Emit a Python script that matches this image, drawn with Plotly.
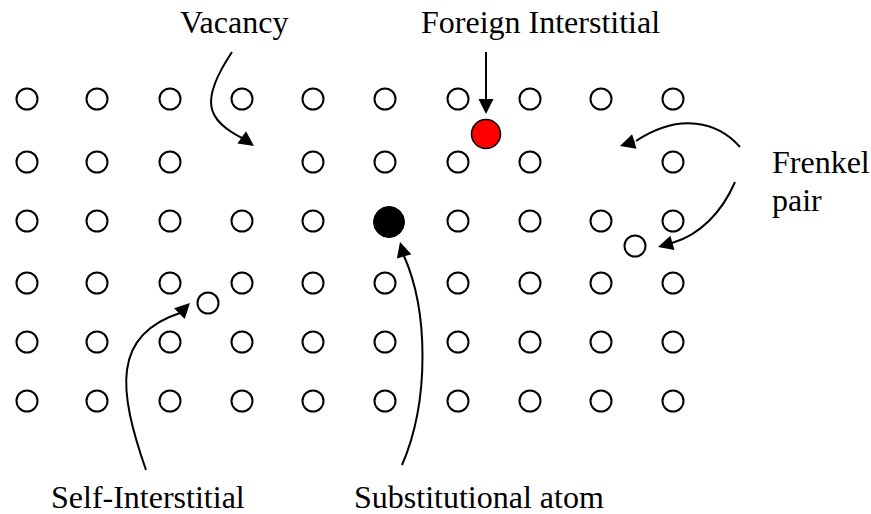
import plotly.graph_objects as go

# lattice columns / rows (pixel-like coordinates, y grows downward)
col_x = [27, 97, 170, 242, 313, 385, 458, 530, 601, 673]
row_y = [99, 162, 221, 283, 342, 401]

# (row, col) lattice sites that are empty or replaced
vacant_sites = [(1, 3), (1, 8)]
substituted_sites = [(2, 5)]

# defect atoms
self_interstitials = [(208, 303), (635, 246)]   # self-interstitial + Frenkel interstitial
foreign_interstitial = [(486, 134)]
substitutional_atom = [(389, 222)]

# label texts
label_text = ["Vacancy", "Foreign Interstitial", "Frenkel", "pair",
              "Self-Interstitial", "Substitutional atom"]

# arrow paths: start, control 1, control 2, curve end, arrow tip
arrow_paths = [
    [(232, 52), (200, 100), (205, 120), (244, 139), (254, 146)],   # Vacancy
    [(486, 52), (486, 70), (486, 85), (486, 100), (486, 114)],     # Foreign Interstitial
    [(740, 147), (718, 122), (680, 112), (636, 141), (620, 146)],  # Frenkel -> vacancy
    [(735, 182), (722, 212), (700, 235), (672, 243), (658, 247)],  # Frenkel -> interstitial
    [(146, 470), (118, 390), (112, 335), (180, 313), (190, 303)],  # Self-Interstitial
    [(402, 465), (430, 400), (428, 310), (404, 256), (400, 242)],  # Substitutional
]

W, H = 871, 514

lat_x, lat_y = [], []
for r, y in enumerate(row_y):
    for c, x in enumerate(col_x):
        if (r, c) in vacant_sites or (r, c) in substituted_sites:
            continue
        lat_x.append(x)
        lat_y.append(y)

fig = go.Figure()

open_marker = dict(symbol="circle", size=21, color="white",
                   line=dict(color="black", width=2))

fig.add_trace(go.Scatter(x=lat_x, y=lat_y, mode="markers", marker=open_marker))
fig.add_trace(go.Scatter(x=[p[0] for p in self_interstitials],
                         y=[p[1] for p in self_interstitials],
                         mode="markers", marker=open_marker))
fig.add_trace(go.Scatter(x=[p[0] for p in foreign_interstitial],
                         y=[p[1] for p in foreign_interstitial],
                         mode="markers",
                         marker=dict(size=29, color="#ff0000",
                                     line=dict(color="black", width=1.5))))
fig.add_trace(go.Scatter(x=[p[0] for p in substitutional_atom],
                         y=[p[1] for p in substitutional_atom],
                         mode="markers",
                         marker=dict(size=31, color="black",
                                     line=dict(color="black", width=1))))

# curved arrow bodies + arrowheads
for p0, c1, c2, p3, tip in arrow_paths:
    path = f"M{p0[0]},{p0[1]} C{c1[0]},{c1[1]} {c2[0]},{c2[1]} {p3[0]},{p3[1]}"
    fig.add_shape(type="path", path=path, xref="x", yref="y",
                  line=dict(color="black", width=2))
    fig.add_annotation(x=tip[0], y=tip[1], ax=p3[0], ay=p3[1],
                       xref="x", yref="y", axref="x", ayref="y",
                       text="", showarrow=True, arrowhead=2,
                       arrowsize=1.5, arrowwidth=2, arrowcolor="black")

# labels: (x, middle y, anchor)
label_pos = [(234, 22, "center"), (540, 22, "center"), (770, 162, "left"),
             (770, 200, "left"), (148, 497, "center"), (479, 497, "center")]
for txt, (x, y, anc) in zip(label_text, label_pos):
    fig.add_annotation(x=x, y=y, xref="x", yref="y", text=txt, showarrow=False,
                       xanchor=anc, yanchor="middle",
                       font=dict(family="Liberation Serif", size=32, color="black"))

fig.update_layout(
    width=W, height=H,
    margin=dict(l=0, r=0, t=0, b=0),
    showlegend=False,
    plot_bgcolor="white", paper_bgcolor="white",
    hovermode=False,
    xaxis=dict(range=[0, W], visible=False, fixedrange=True),
    yaxis=dict(range=[H, 0], visible=False, fixedrange=True),
)

# drop the default page margin so the figure sits at the window's corner
fig.write_html("out.html", config={"displayModeBar": False},
               post_script="document.body.style.margin = '0';")
